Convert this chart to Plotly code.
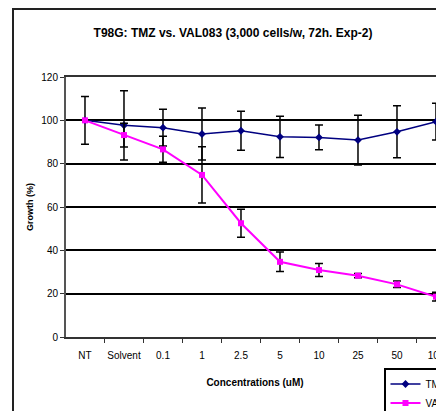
import plotly.graph_objects as go

categories = ["NT", "Solvent", "0.1", "1", "2.5", "5", "10", "25", "50", "100"]
tmz_values = [100, 97.7, 96.6, 93.7, 95.2, 92.4, 92.1, 90.9, 94.7, 99.4]
tmz_errors = [11, 16, 8.5, 12, 9, 9.5, 5.7, 11.5, 12, 8.5]
val_values = [100, 93.2, 86.6, 74.8, 52.5, 34.7, 30.9, 28.3, 24.3, 18.6]
val_errors = [0, 5.5, 6, 13, 6.5, 4.5, 3, 1, 1.5, 2]
y_ticks = [0, 20, 40, 60, 80, 100, 120]

FONT = "Liberation Sans Narrow, Arial Narrow, Liberation Sans, Arial, sans-serif"

# page body has an 8px margin, so the figure is laid out in coordinates offset by 8px
W, H = 436, 403
L, T, B = 58, 69, 74
PW = W - L
PH = H - T - B

fig = go.Figure()
fig.add_trace(go.Scatter(
    x=categories, y=tmz_values, name="TMZ", mode="lines+markers",
    line=dict(color="#000080", width=1.5),
    marker=dict(symbol="diamond", size=6, color="#000080"),
    error_y=dict(type="data", array=tmz_errors, color="black", thickness=1.5, width=4),
))
fig.add_trace(go.Scatter(
    x=categories, y=val_values, name="VAL083", mode="lines+markers",
    line=dict(color="#FF00FF", width=2),
    marker=dict(symbol="square", size=6, color="#FF00FF"),
    error_y=dict(type="data", array=val_errors, color="black", thickness=1.5, width=4),
))

fig.update_layout(
    width=W, height=H,
    margin=dict(l=L, r=0, t=T, b=B, autoexpand=False),
    paper_bgcolor="white", plot_bgcolor="white",
    font=dict(family=FONT, size=9, color="black"),
    title=dict(text="<b>T98G: TMZ vs. VAL083 (3,000 cells/w, 72h. Exp-2)</b>",
               xref="container", x=225 / W, xanchor="center",
               yref="container", y=1 - 25 / H, yanchor="middle",
               font=dict(family=FONT, size=12, color="black")),
    xaxis=dict(type="category", range=[-0.487, -0.487 + PW / 39], showgrid=False, automargin=False,
               showline=True, linecolor="#333333", linewidth=2, mirror=True,
               ticks="outside", tickson="boundaries", ticklen=4, tickcolor="#333333",
               tickangle=0, ticklabelstandoff=8, tickfont=dict(size=10),
               title=dict(text="<b>Concentrations (uM)</b>", standoff=19,
                          font=dict(family=FONT, size=10))),
    yaxis=dict(range=[0, 120], tickvals=y_ticks, showgrid=True, gridcolor="black", gridwidth=1.5,
               automargin=False,
               showline=True, linecolor="#555555", linewidth=2, mirror=True,
               ticks="outside", ticklen=4, tickcolor="#333333", zeroline=False,
               tickfont=dict(size=10),
               title=dict(text="<b>Growth (%)</b>", standoff=6,
                          font=dict(family=FONT, size=9))),
    legend=dict(x=(384 - 8 - L) / PW, xanchor="left", y=(329 - 360) / PH, yanchor="top",
                bordercolor="black", borderwidth=1.5, bgcolor="white",
                font=dict(family=FONT, size=10), tracegroupgap=0),
    showlegend=True,
    shapes=[dict(type="rect", xref="paper", yref="paper",
                 x0=(5 - L) / PW, x1=1.3, y0=-0.6, y1=(PH + T - 1) / PH,
                 line=dict(color="#222222", width=2), fillcolor="rgba(0,0,0,0)", layer="below")],
)

fig.write_html("out.html")
